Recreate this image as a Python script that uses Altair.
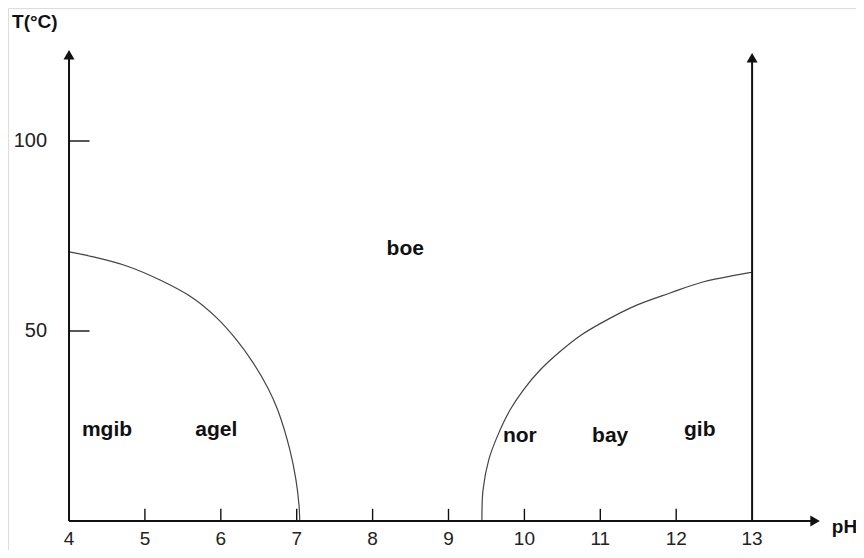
import altair as alt
import pandas as pd

# ---- data ----
ph_ticks = [4, 5, 6, 7, 8, 9, 10, 11, 12, 13]
ph_tick_labels = ["4", "5", "6", "7", "8", "9", "10", "11", "12", "13"]
t_ticks = [50, 100]
t_tick_labels = ["50", "100"]

# left boundary curve (pH, T)
left_ph = [4.00, 4.32, 4.76, 5.20, 5.63, 5.95, 6.21, 6.42, 6.62, 6.75, 6.91, 6.99, 7.03, 7.04]
left_t = [70.8, 69.5, 67.1, 63.4, 58.7, 53.4, 47.6, 41.8, 35.0, 29.2, 18.7, 10.8, 4.2, 0.0]

# right boundary curve (pH, T)
right_ph = [9.44, 9.455, 9.53, 9.65, 9.81, 9.99, 10.21, 10.47, 10.73, 11.04, 11.48, 11.92, 12.35, 13.00]
right_t = [0.0, 8.2, 16.1, 22.6, 29.2, 34.6, 39.8, 44.6, 48.7, 52.4, 56.8, 60.0, 62.9, 65.5]

region_names = ["mgib", "agel", "boe", "nor", "bay", "gib"]
region_ph = [4.50, 5.94, 8.43, 9.94, 11.13, 12.31]
region_t = [23.9, 23.9, 71.6, 22.4, 22.4, 23.9]

FONT = "Liberation Sans"
INK = "#111111"

xs = alt.Scale(domain=[3.196, 14.369], nice=False, zero=False)
ys = alt.Scale(domain=[-7.63, 135.0], nice=False, zero=False)

X = lambda f: alt.X(f, type="quantitative", scale=xs, axis=None)
Y = lambda f: alt.Y(f, type="quantitative", scale=ys, axis=None)

# axis lines (from origin to the arrow heads)
axes_df = pd.DataFrame({
    "x": [4, 4, 13],
    "y": [0, 0, 0],
    "x2": [13.83, 4, 13],
    "y2": [0, 122.7, 121.9],
})
axes = alt.Chart(axes_df).mark_rule(color=INK, strokeWidth=2).encode(
    x=X("x"), y=Y("y"), x2="x2", y2="y2")

arrows_df = pd.DataFrame({
    "x": [4, 13, 13.83],
    "y": [122.7, 121.9, 0],
    "shape": ["triangle-up", "triangle-up", "triangle-right"],
})
arrows = alt.Chart(arrows_df).mark_point(filled=True, color=INK, opacity=1, size=121).encode(
    x=X("x"), y=Y("y"), shape=alt.Shape("shape:N", scale=None))

# tick marks
xt_df = pd.DataFrame({"x": ph_ticks[1:-1]})
xt_df["y"] = 0
xt_df["y2"] = 3.2
xticks = alt.Chart(xt_df).mark_rule(color=INK, strokeWidth=1.4).encode(
    x=X("x"), y=Y("y"), y2="y2")

yt_df = pd.DataFrame({"y": t_ticks})
yt_df["x"] = 4
yt_df["x2"] = 4.27
yticks = alt.Chart(yt_df).mark_rule(color=INK, strokeWidth=1.4).encode(
    x=X("x"), x2="x2", y=Y("y"))

# tick labels
xl_df = pd.DataFrame({"x": ph_ticks, "label": ph_tick_labels})
xl_df["y"] = -7.4
xlabels = alt.Chart(xl_df).mark_text(font=FONT, fontSize=19, color="#222222",
                                     baseline="bottom", align="center").encode(
    x=X("x"), y=Y("y"), text="label:N")

yl_df = pd.DataFrame({"y": t_ticks, "label": t_tick_labels})
yl_df["x"] = 3.71
ylabels = alt.Chart(yl_df).mark_text(font=FONT, fontSize=20, color="#222222",
                                     baseline="middle", align="right").encode(
    x=X("x"), y=Y("y"), text="label:N")

# axis titles
title_t = alt.Chart(pd.DataFrame({"x": [3.55], "y": [131.3], "label": ["T(°C)"]})).mark_text(
    font=FONT, fontSize=19, fontWeight="bold", color=INK, baseline="middle", align="center").encode(
    x=X("x"), y=Y("y"), text="label:N")
title_ph = alt.Chart(pd.DataFrame({"x": [14.05], "y": [-1.6], "label": ["pH"]})).mark_text(
    font=FONT, fontSize=19, fontWeight="bold", color=INK, baseline="middle", align="left").encode(
    x=X("x"), y=Y("y"), text="label:N")

# boundary curves
left_df = pd.DataFrame({"x": left_ph, "y": left_t, "seq": range(len(left_ph)), "curve": "left"})
right_df = pd.DataFrame({"x": right_ph, "y": right_t, "seq": range(len(right_ph)), "curve": "right"})
curves_df = pd.concat([left_df, right_df], ignore_index=True)
curves = alt.Chart(curves_df).mark_line(color="#444444", strokeWidth=1.2, interpolate="catmull-rom").encode(
    x=X("x"), y=Y("y"), order="seq:Q", detail="curve:N")

# region labels
reg_df = pd.DataFrame({"x": region_ph, "y": region_t, "label": region_names})
regions = alt.Chart(reg_df).mark_text(font=FONT, fontSize=21, fontWeight="bold", color=INK,
                                      baseline="middle", align="center").encode(
    x=X("x"), y=Y("y"), text="label:N")

chart = alt.layer(curves, axes, arrows, xticks, yticks, xlabels, ylabels, title_t, title_ph, regions).properties(
    width=848, height=542, padding=0,
    autosize=alt.AutoSizeParams(type="none"),
).configure_view(stroke="transparent", strokeWidth=0).configure(background="white")

chart.save("out.html", embed_options={"renderer": "svg", "actions": False})
